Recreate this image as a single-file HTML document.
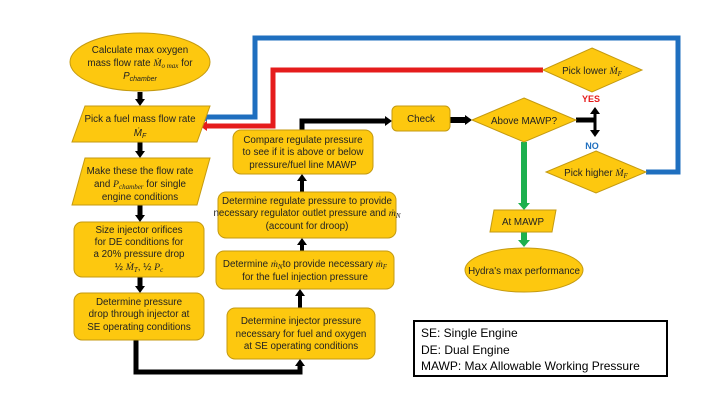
<!DOCTYPE html>
<html><head><meta charset="utf-8"><style>
html,body{margin:0;padding:0;background:#fff}
svg{display:block}
text{font-family:"Liberation Sans",sans-serif;font-size:9.8px;fill:#222}
.s{fill:#FDC80F;stroke:#C49A10;stroke-width:1}
</style></head><body>
<svg width="720" height="405" viewBox="0 0 720 405" xmlns="http://www.w3.org/2000/svg">
<defs>
<marker id="ak" markerWidth="8" markerHeight="10" refX="0" refY="5" orient="auto" markerUnits="userSpaceOnUse"><path d="M0,0 L7,5 L0,10 z" fill="#000"/></marker>
<marker id="ab" markerWidth="8" markerHeight="10" refX="0" refY="5" orient="auto" markerUnits="userSpaceOnUse"><path d="M0,0 L7,5 L0,10 z" fill="#1F6FBF"/></marker>
<marker id="ar" markerWidth="8" markerHeight="10" refX="0" refY="5" orient="auto" markerUnits="userSpaceOnUse"><path d="M0,0 L7,5 L0,10 z" fill="#E51C1C"/></marker>
<marker id="ag" markerWidth="8" markerHeight="12" refX="0" refY="6" orient="auto" markerUnits="userSpaceOnUse"><path d="M0,0 L7,6 L0,12 z" fill="#1DB04E"/></marker>
</defs>

<polyline points="646,172 678,172 678,38 255,38 255,117 207,117" fill="none" stroke="#1F6FBF" stroke-width="5" marker-end="url(#ab)"/>
<polyline points="543,70 273,70 273,126 207,126" fill="none" stroke="#E51C1C" stroke-width="5" marker-end="url(#ar)"/>
<g stroke="#000" stroke-width="5" fill="none">
<line x1="140" y1="92" x2="140" y2="99" marker-end="url(#ak)"/>
<line x1="140" y1="142" x2="140" y2="151" marker-end="url(#ak)"/>
<line x1="140" y1="205" x2="140" y2="215" marker-end="url(#ak)"/>
<line x1="140" y1="277" x2="140" y2="286" marker-end="url(#ak)"/>
<polyline points="136,340 136,372 300,372 300,366" marker-end="url(#ak)"/>
<line x1="300" y1="308" x2="300" y2="296" stroke-width="4" marker-end="url(#ak)"/>
<line x1="302" y1="251" x2="302" y2="245" stroke-width="4" marker-end="url(#ak)"/>
<line x1="302" y1="192" x2="302" y2="181" stroke-width="4" marker-end="url(#ak)"/>
<polyline points="302,130 302,121 385,121" marker-end="url(#ak)"/>
<line x1="450" y1="120" x2="465" y2="120" stroke-width="6" marker-end="url(#ak)"/>
<line x1="576" y1="120" x2="595" y2="120"/>
<line x1="595" y1="120" x2="595" y2="114" stroke-width="3" marker-end="url(#ak)"/>
<line x1="595" y1="120" x2="595" y2="130" stroke-width="3" marker-end="url(#ak)"/>
</g>
<line x1="524" y1="142" x2="524" y2="203" stroke="#1DB04E" stroke-width="6" marker-end="url(#ag)"/>
<line x1="524" y1="232" x2="524" y2="240" stroke="#1DB04E" stroke-width="6" marker-end="url(#ag)"/>

<ellipse class="s" cx="140" cy="62" rx="70" ry="29"/>
<polygon class="s" points="85,106 210,106 197,142 72,142"/>
<polygon class="s" points="85,158 210,158 197,205 72,205"/>
<rect class="s" x="74" y="222" width="130" height="55" rx="8"/>
<rect class="s" x="74" y="293" width="130" height="47" rx="8"/>
<rect class="s" x="227" y="308" width="148" height="51" rx="8"/>
<rect class="s" x="216" y="251" width="178" height="38" rx="8"/>
<rect class="s" x="218" y="192" width="178" height="46" rx="8"/>
<rect class="s" x="233" y="130" width="140" height="44" rx="8"/>
<rect class="s" x="392" y="106" width="58" height="25" rx="5"/>
<polygon class="s" points="524,98 576,120 524,142 472,120"/>
<polygon class="s" points="592,48 642,70 592,92 543,70"/>
<polygon class="s" points="596,151 646,172 596,193 546,172"/>
<polygon class="s" points="494,210 556,210 552,232 490,232"/>
<ellipse class="s" cx="524" cy="270" rx="59" ry="22"/>

<g text-anchor="middle">
<text x="140" y="53">Calculate max oxygen</text>
<text x="140" y="66">mass flow rate <tspan font-family="Liberation Serif" font-style="italic">Ṁ<tspan font-size="7" dy="2">o max</tspan></tspan><tspan dy="-2"> for</tspan></text>
<text x="140" y="79" font-family="Liberation Serif" font-style="italic">P<tspan font-size="7" dy="2">chamber</tspan></text>
<text x="140" y="122">Pick a fuel mass flow rate</text>
<text x="140" y="136" font-family="Liberation Serif" font-style="italic">Ṁ<tspan font-size="7" dy="2">F</tspan></text>
<text x="140" y="174">Make these the flow rate</text>
<text x="140" y="187">and <tspan font-family="Liberation Serif" font-style="italic">P<tspan font-size="7" dy="2">chamber</tspan></tspan><tspan dy="-2"> for single</tspan></text>
<text x="140" y="200">engine conditions</text>
<text x="139" y="233">Size injector orifices</text>
<text x="139" y="245">for DE conditions for</text>
<text x="139" y="257">a 20% pressure drop</text>
<text x="139" y="270">½ <tspan font-family="Liberation Serif" font-style="italic">Ṁ<tspan font-size="7" dy="2">T</tspan></tspan><tspan dy="-2">, ½ </tspan><tspan font-family="Liberation Serif" font-style="italic">P<tspan font-size="7" dy="2">c</tspan></tspan></text>
<text x="139" y="305">Determine pressure</text>
<text x="139" y="317">drop through injector at</text>
<text x="139" y="330">SE operating conditions</text>
<text x="301" y="324">Determine injector pressure</text>
<text x="301" y="337">necessary for fuel and oxygen</text>
<text x="301" y="349">at SE operating conditions</text>
<text x="305" y="267">Determine <tspan font-family="Liberation Serif" font-style="italic">ṁ<tspan font-size="7" dy="2">N</tspan></tspan><tspan dy="-2">to provide necessary </tspan><tspan font-family="Liberation Serif" font-style="italic">ṁ<tspan font-size="7" dy="2">F</tspan></tspan></text>
<text x="305" y="280">for the fuel injection pressure</text>
<text x="307" y="204">Determine regulate pressure to provide</text>
<text x="307" y="216">necessary regulator outlet pressure and <tspan font-family="Liberation Serif" font-style="italic">ṁ<tspan font-size="7" dy="2">N</tspan></tspan></text>
<text x="307" y="229">(account for droop)</text>
<text x="303" y="143">Compare regulate pressure</text>
<text x="303" y="155">to see if it is above or below</text>
<text x="303" y="168">pressure/fuel line MAWP</text>
<text x="421" y="122">Check</text>
<text x="524" y="124">Above MAWP?</text>
<text x="592" y="74">Pick lower <tspan font-family="Liberation Serif" font-style="italic">Ṁ<tspan font-size="7" dy="2">F</tspan></tspan></text>
<text x="596" y="176">Pick higher <tspan font-family="Liberation Serif" font-style="italic">Ṁ<tspan font-size="7" dy="2">F</tspan></tspan></text>
<text x="523" y="225">At MAWP</text>
<text x="524" y="274">Hydra's max performance</text>
<text x="591" y="102" font-weight="bold" style="fill:#E51C1C;font-size:9px">YES</text>
<text x="592" y="149" font-weight="bold" style="fill:#1F6FBF;font-size:9px">NO</text>
</g>

<rect x="414" y="321" width="253" height="55" fill="#fff" stroke="#000" stroke-width="2"/>
<text x="421" y="337" style="font-size:12px;fill:#000">SE: Single Engine</text>
<text x="421" y="354" style="font-size:12px;fill:#000">DE: Dual Engine</text>
<text x="421" y="370" style="font-size:12px;fill:#000">MAWP: Max Allowable Working Pressure</text>
</svg>
</body></html>
